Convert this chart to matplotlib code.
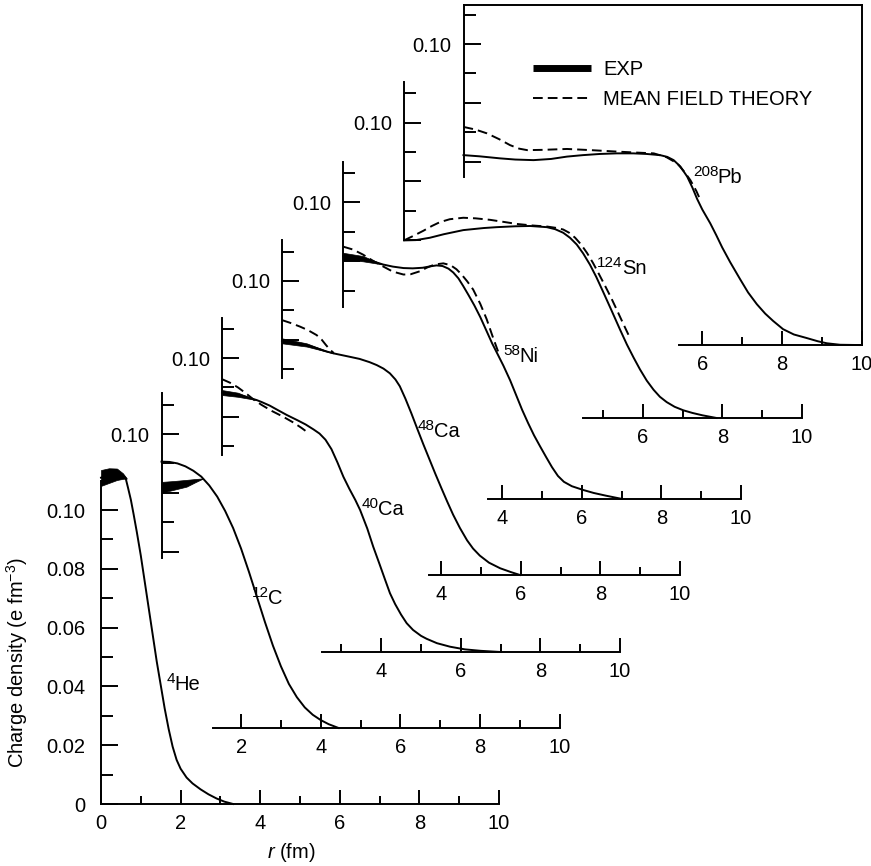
import numpy as np
import matplotlib
matplotlib.use('Agg')
import matplotlib.pyplot as plt
from matplotlib.lines import Line2D
from matplotlib.ticker import FixedLocator, FuncFormatter

plt.rcParams['font.family'] = ['Liberation Sans', 'DejaVu Sans']
plt.rcParams['mathtext.fontset'] = 'custom'
plt.rcParams['mathtext.rm'] = 'Liberation Sans'
plt.rcParams['mathtext.it'] = 'Liberation Sans:italic'
plt.rcParams['mathtext.bf'] = 'Liberation Sans:bold'

# ---------------- data (r in fm, rho in e fm^-3) ----------------
mass_numbers = ['4', '12', '40', '48', '58', '124', '208']
elements = ['He', 'C', 'Ca', 'Ca', 'Ni', 'Sn', 'Pb']

he_r = [0.0, 0.2, 0.4, 0.55, 0.62, 0.68, 0.75, 0.82, 0.9, 1.0, 1.1, 1.2, 1.3, 1.4, 1.5, 1.6, 1.7,
        1.8, 1.9, 2.0, 2.15, 2.3, 2.5, 2.7, 2.9, 3.1, 3.32]
he_rho = [0.1110, 0.1117, 0.1122, 0.1118, 0.1108, 0.1075, 0.1035, 0.0985, 0.0925, 0.0845, 0.0755,
          0.0665, 0.0575, 0.0485, 0.0405, 0.0325, 0.0255, 0.0195, 0.0150, 0.0120, 0.0090, 0.0070,
          0.0050, 0.0033, 0.0019, 0.0008, 0.0]
he_band_r = [0.0, 0.2, 0.4, 0.55, 0.65]
he_band_lo = [0.1082, 0.1092, 0.1102, 0.1106, 0.1107]
he_band_hi = [0.1136, 0.1142, 0.1141, 0.1125, 0.1107]

c_r = [0.0, 0.2, 0.4, 0.6, 0.8, 1.0, 1.2, 1.4, 1.6, 1.8, 2.0, 2.2, 2.4, 2.6, 2.8, 3.0, 3.2, 3.4,
       3.6, 3.8, 4.0, 4.2, 4.45]
c_rho = [0.0906, 0.0905, 0.0900, 0.0890, 0.0875, 0.0855, 0.0825, 0.0787, 0.0738, 0.0680, 0.0610,
         0.0530, 0.0445, 0.0360, 0.0280, 0.0210, 0.0150, 0.0105, 0.0070, 0.0045, 0.0027, 0.0013, 0.0]
c_band_r = [0.0, 0.3, 0.63, 0.85, 1.05]
c_band_lo = [0.0800, 0.0810, 0.0821, 0.0836, 0.0849]
c_band_hi = [0.0837, 0.0840, 0.0844, 0.0847, 0.0849]

ca40_r = [0.0, 0.2, 0.4, 0.6, 0.87, 1.0, 1.2, 1.4, 1.63, 1.9, 2.1, 2.3, 2.45, 2.6, 2.75, 2.9, 3.05,
          3.2, 3.35, 3.47, 3.65, 3.8, 3.95, 4.1, 4.22, 4.35, 4.5, 4.64, 4.8, 5.0, 5.14, 5.4, 5.73,
          6.1, 6.5, 7.0]
ca40_rho = [0.0883, 0.0880, 0.0875, 0.0868, 0.0857, 0.0850, 0.0838, 0.0823, 0.0806, 0.0788, 0.0774,
            0.0757, 0.0743, 0.0722, 0.0690, 0.0645, 0.0596, 0.0555, 0.0517, 0.0483, 0.0420, 0.0358,
            0.0302, 0.0245, 0.0200, 0.0163, 0.0127, 0.0098, 0.0075, 0.0055, 0.0045, 0.0030, 0.0018,
            0.0009, 0.0004, 0.0]
ca40_band_r = [0.0, 0.4, 0.87]
ca40_band_lo = [0.0874, 0.0868, 0.0857]
ca40_band_hi = [0.0891, 0.0882, 0.0857]
ca40_th_r = [0.0, 0.2, 0.4, 0.6, 0.8, 1.0, 1.25, 1.54, 1.8, 2.0, 2.13]
ca40_th_rho = [0.0928, 0.0916, 0.0900, 0.0880, 0.0858, 0.0840, 0.0820, 0.0800, 0.0780, 0.0762, 0.0749]

ca48_r = [0.0, 0.3, 0.62, 0.9, 1.1, 1.29, 1.5, 1.71, 1.95, 2.2, 2.38, 2.55, 2.71, 2.85, 2.96, 3.1,
          3.25, 3.4, 3.55, 3.7, 3.85, 4.0, 4.15, 4.3, 4.47, 4.65, 4.8, 4.97, 5.2, 5.48, 5.75, 5.98]
ca48_rho = [0.0797, 0.0791, 0.0782, 0.0770, 0.0761, 0.0754, 0.0748, 0.0742, 0.0735, 0.0724, 0.0714,
            0.0702, 0.0686, 0.0665, 0.0642, 0.0600, 0.0550, 0.0497, 0.0445, 0.0395, 0.0345, 0.0297,
            0.0250, 0.0205, 0.0160, 0.0118, 0.0090, 0.0066, 0.0042, 0.0023, 0.0010, 0.0]
ca48_band_r = [0.0, 0.62, 1.29]
ca48_band_lo = [0.0788, 0.0777, 0.0754]
ca48_band_hi = [0.0805, 0.0788, 0.0754]
ca48_th_r = [0.0, 0.2, 0.45, 0.65, 0.87, 1.0, 1.1, 1.2, 1.3]
ca48_th_rho = [0.0867, 0.0858, 0.0845, 0.0833, 0.0816, 0.0800, 0.0783, 0.0767, 0.0755]

ni_r = [0.0, 0.25, 0.5, 0.75, 1.01, 1.25, 1.52, 1.75, 2.0, 2.2, 2.35, 2.5, 2.65, 2.77, 2.9, 3.02,
        3.15, 3.3, 3.45, 3.6, 3.75, 3.9, 4.03, 4.2, 4.35, 4.5, 4.65, 4.8, 4.95, 5.1, 5.25, 5.4, 5.55,
        5.75, 6.04, 6.3, 6.6, 7.0]
ni_rho = [0.0817, 0.0815, 0.0809, 0.0800, 0.0789, 0.0782, 0.0777, 0.0776, 0.0778, 0.0783, 0.0786,
          0.0784, 0.0775, 0.0762, 0.0742, 0.0716, 0.0686, 0.0650, 0.0610, 0.0565, 0.0520, 0.0480,
          0.0445, 0.0395, 0.0345, 0.0295, 0.0250, 0.0208, 0.0171, 0.0135, 0.0100, 0.0070, 0.0050,
          0.0035, 0.0022, 0.0012, 0.0003, -0.0008]
ni_band_r = [0.0, 0.5, 1.01]
ni_band_lo = [0.0806, 0.0800, 0.0789]
ni_band_hi = [0.0829, 0.0818, 0.0789]
ni_th_r = [0.0, 0.25, 0.5, 0.75, 1.0, 1.25, 1.52, 1.7, 1.93, 2.1, 2.3, 2.52, 2.7, 2.85, 2.98, 3.12,
           3.27, 3.45, 3.61, 3.75, 3.9]
ni_th_rho = [0.0850, 0.0840, 0.0823, 0.0802, 0.0783, 0.0765, 0.0755, 0.0756, 0.0766, 0.0778, 0.0789,
             0.0793, 0.0787, 0.0773, 0.0755, 0.0732, 0.0704, 0.0655, 0.0603, 0.0548, 0.0492]

sn_r = [0.0, 0.3, 0.65, 1.0, 1.49, 2.0, 2.33, 2.8, 3.17, 3.59, 3.8, 4.0, 4.17, 4.34, 4.5, 4.67, 4.83,
        5.0, 5.2, 5.43, 5.6, 5.77, 5.93, 6.1, 6.27, 6.43, 6.6, 6.8, 7.02, 7.25, 7.5, 7.85]
sn_rho = [0.0599, 0.0600, 0.0608, 0.0620, 0.0634, 0.0641, 0.0644, 0.0647, 0.0648, 0.0644, 0.0637,
          0.0625, 0.0608, 0.0585, 0.0555, 0.0517, 0.0475, 0.0425, 0.0365, 0.0295, 0.0245, 0.0200,
          0.0160, 0.0122, 0.0091, 0.0067, 0.0049, 0.0033, 0.0021, 0.0012, 0.0004, -0.0005]
sn_th_r = [0.0, 0.2, 0.49, 0.7, 0.9, 1.15, 1.49, 1.8, 2.16, 2.5, 2.83, 3.2, 3.6, 3.85, 4.0, 4.15,
           4.3, 4.45, 4.6, 4.75, 4.9, 5.05, 5.2, 5.35, 5.5, 5.65]
sn_th_rho = [0.0599, 0.0612, 0.0632, 0.0648, 0.0661, 0.0671, 0.0676, 0.0674, 0.0669, 0.0662, 0.0655,
             0.0650, 0.0646, 0.0641, 0.0636, 0.0625, 0.0608, 0.0585, 0.0556, 0.0522, 0.0484, 0.0445,
             0.0405, 0.0362, 0.0318, 0.0275]

pb_r = [0.0, 0.4, 0.92, 1.3, 1.76, 2.2, 2.6, 3.0, 3.43, 3.85, 4.27, 4.6, 4.94, 5.12, 5.28, 5.45,
        5.62, 5.75, 5.87, 6.0, 6.2, 6.35, 6.5, 6.7, 6.95, 7.15, 7.37, 7.58, 7.78, 8.03, 8.3, 8.62,
        8.9, 9.13, 9.46, 9.96]
pb_rho = [0.0622, 0.0618, 0.0611, 0.0607, 0.0605, 0.0609, 0.0617, 0.0622, 0.0626, 0.0628, 0.0628,
          0.0626, 0.0622, 0.0616, 0.0605, 0.0583, 0.0549, 0.0512, 0.0473, 0.0437, 0.0390, 0.0350,
          0.0308, 0.0258, 0.0200, 0.0155, 0.0115, 0.0083, 0.0058, 0.0030, 0.0012, 0.0, -0.0011,
          -0.0018, -0.0023, -0.0024]
pb_th_r = [0.0, 0.3, 0.59, 0.9, 1.17, 1.4, 1.6, 2.0, 2.6, 3.2, 3.86, 4.3, 4.78, 5.1, 5.37, 5.55, 5.7,
           5.85, 5.95]
pb_th_rho = [0.0718, 0.0709, 0.0696, 0.0676, 0.0656, 0.0644, 0.0639, 0.0640, 0.0643, 0.0639, 0.0634,
             0.0631, 0.0628, 0.0615, 0.0594, 0.0565, 0.0537, 0.0500, 0.0470]

exp_curves = [(he_r, he_rho), (c_r, c_rho), (ca40_r, ca40_rho), (ca48_r, ca48_rho),
              (ni_r, ni_rho), (sn_r, sn_rho), (pb_r, pb_rho)]
bands = [(he_band_r, he_band_lo, he_band_hi), (c_band_r, c_band_lo, c_band_hi),
         (ca40_band_r, ca40_band_lo, ca40_band_hi), (ca48_band_r, ca48_band_lo, ca48_band_hi),
         (ni_band_r, ni_band_lo, ni_band_hi), None, None]
theory = [None, None, (ca40_th_r, ca40_th_rho), (ca48_th_r, ca48_th_rho),
          (ni_th_r, ni_th_rho), (sn_th_r, sn_th_rho), (pb_th_r, pb_th_rho)]

# ---------------- layout ----------------
W, H, DPI = 871, 866, 100
PX_FM = 39.8          # pixels per fm
PX_RHO = 2940.0       # pixels per e fm^-3
origins = [(101, 804), (161.5, 728), (222, 652), (282, 575), (343, 496.5), (404, 416.5), (463.5, 338)]
drop_px = [0, 0, 0, 0, 2.5, 1.5, 7]
x_start = [0.0, 1.3, 2.5, 3.7, 3.65, 4.5, 5.42]
y_lo = [0.0, 0.0578, 0.067, 0.067, 0.0646, 0.0599, 0.0548]
y_hi = [0.110, 0.114, 0.1136, 0.114, 0.1137, 0.1137, 0.1133]
label_pos = [(1.66, 0.0388), (2.27, 0.0422), (3.52, 0.0466), (3.42, 0.0469),
             (4.03, 0.0456), (4.85, 0.0484), (5.77, 0.0527)]
FS = 14.5
FS_SUP = 11
SUP_RAISE = 5.0   # points
LW = 1.4
DASH = (0, (5, 2.6))

fig = plt.figure(figsize=(W / DPI, H / DPI), dpi=DPI)

YB = -0.006
for i in range(7):
    ox, oy = origins[i]
    YT = y_hi[i] if i == 6 else 0.12
    left = ox / W
    bottom = (H - oy + YB * PX_RHO) / H
    ax = fig.add_axes([left, bottom, 10 * PX_FM / W, (YT - YB) * PX_RHO / H])
    ax.set_xlim(0, 10)
    ax.set_ylim(YB, YT)
    ax.patch.set_visible(False)

    base = -drop_px[i] / PX_RHO
    for s in ax.spines.values():
        s.set_linewidth(LW)
    ax.spines['left'].set_bounds(y_lo[i], y_hi[i])
    ax.spines['bottom'].set_bounds(x_start[i], 10)
    ax.spines['bottom'].set_position(('data', base))
    if i == 6:
        ax.spines['right'].set_bounds(base, YT)
        ax.spines['top'].set_bounds(0, 10)
    else:
        ax.spines['right'].set_visible(False)
        ax.spines['top'].set_visible(False)

    xs = np.arange(0, 11)
    xs = xs[xs >= x_start[i] - 1e-9]
    ax.xaxis.set_major_locator(FixedLocator([v for v in xs if v % 2 == 0]))
    ax.xaxis.set_minor_locator(FixedLocator([v for v in xs if v % 2 == 1]))
    ax.xaxis.set_major_formatter(FuncFormatter(lambda v, p: '%d' % round(v)))

    hund = np.arange(0, 12)
    yt = [k / 100 for k in hund if y_lo[i] - 1e-6 <= k / 100 <= y_hi[i] + 1e-6]
    ax.yaxis.set_major_locator(FixedLocator([v for v in yt if round(v * 100) % 2 == 0]))
    ax.yaxis.set_minor_locator(FixedLocator([v for v in yt if round(v * 100) % 2 == 1]))
    if i == 0:
        ax.yaxis.set_major_formatter(FuncFormatter(lambda v, p: '0' if abs(v) < 1e-9 else '%.2f' % v))
        ypad = 11.5
    else:
        ax.yaxis.set_major_formatter(FuncFormatter(lambda v, p: '0.10' if abs(v - 0.10) < 1e-6 else ''))
        ypad = 8.5
    ax.tick_params(axis='x', which='major', direction='in', length=10, width=LW, pad=7.5, labelsize=FS)
    ax.tick_params(axis='x', which='minor', direction='in', length=5.8, width=LW)
    ax.tick_params(axis='y', which='major', direction='in', length=12.2, width=LW, pad=ypad, labelsize=FS)
    ax.tick_params(axis='y', which='minor', direction='in', length=8.6, width=LW)

    r, rho = exp_curves[i]
    ax.plot(r, rho, color='black', lw=LW, clip_on=False, solid_joinstyle='round')
    if bands[i] is not None:
        br, lo, hi = bands[i]
        ax.fill_between(br, lo, hi, color='black', lw=0.5, clip_on=False)
    if theory[i] is not None:
        tr, trho = theory[i]
        ax.plot(tr, trho, color='black', lw=LW, ls=DASH, clip_on=False)

    # nuclide label: superscript mass number + element symbol
    lx, ly = label_pos[i]
    t_sup = ax.annotate(mass_numbers[i], xy=(lx, ly), xytext=(0, SUP_RAISE),
                        textcoords='offset points', fontsize=FS_SUP, ha='left', va='baseline')
    ax.annotate(elements[i], xy=(1, ly), xycoords=(t_sup, 'data'), xytext=(-0.6, 0),
                textcoords='offset points', fontsize=FS, ha='left', va='baseline')

    if i == 6:
        handles = [Line2D([], [], color='black', lw=5, solid_capstyle='butt'),
                   Line2D([], [], color='black', lw=LW, ls=DASH)]
        ax.legend(handles, ['EXP', 'MEAN FIELD THEORY'], loc='upper left',
                  bbox_to_anchor=(533 / W, 1 - 60 / H), bbox_transform=fig.transFigure,
                  frameon=False, fontsize=FS, handlelength=2.9, handletextpad=0.6,
                  labelspacing=0.55, borderpad=0, borderaxespad=0)

fig.text(17 / W, 1 - 663 / H, 'Charge density (e fm$^{-3}$)', rotation=90,
         ha='center', va='center', fontsize=FS)
fig.text(291 / W, 1 - 852 / H, '$r$ (fm)', ha='center', va='center', fontsize=FS)

fig.savefig('out.png', dpi=DPI)
